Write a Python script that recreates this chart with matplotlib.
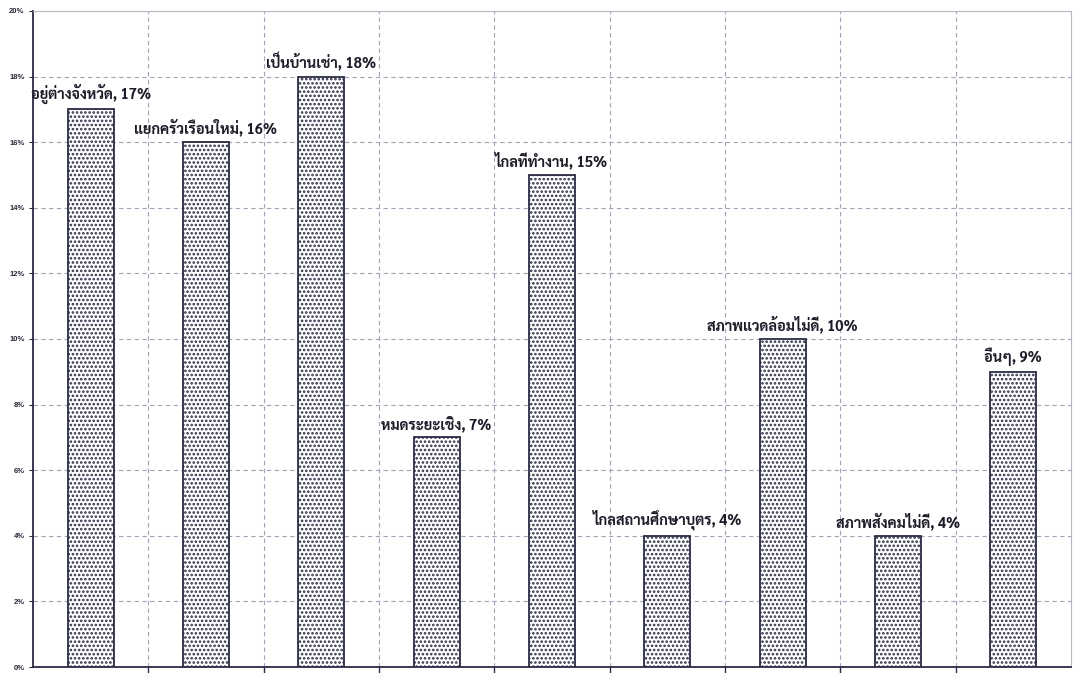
import matplotlib
matplotlib.use("Agg")
import matplotlib.pyplot as plt
import numpy as np

# reasons for moving, share of respondents (%)
categories = [
    "อยู่ต่างจังหวัด",
    "แยกครัวเรือนใหม่",
    "เป็นบ้านเช่า",
    "หมดระยะเชิง",
    "ไกลที่ทำงาน",
    "ไกลสถานศึกษาบุตร",
    "สภาพแวดล้อมไม่ดี",
    "สภาพสังคมไม่ดี",
    "อื่นๆ",
]
values = [17, 16, 18, 7, 15, 4, 10, 4, 9]
ytick_values = [0, 2, 4, 6, 8, 10, 12, 14, 16, 18, 20]
ytick_labels = [f"{v}%" for v in ytick_values]

plt.rcParams["font.family"] = ["Sarabun", "DejaVu Sans"]
plt.rcParams["hatch.linewidth"] = 1.25

ink = "#2a2c44"
grid_col = "#a3a2b8"

fig = plt.figure(figsize=(10.74, 6.73), dpi=100)
ax = fig.add_axes([0.0307, 0.0089, 0.9665, 0.9748])

x = np.arange(len(categories))
bars = ax.bar(x, values, width=0.40, color="white", edgecolor=ink,
              linewidth=1.3, hatch="....", zorder=3)

for xi, v, name in zip(x, values, categories):
    ax.annotate(f"{name}, {v}%", (xi, v), xytext=(0, 4),
                textcoords="offset points", ha="center", va="bottom",
                fontsize=10.5, fontweight="bold", color="#1c1c28", zorder=4)

ax.set_xlim(-0.5, len(categories) - 0.5)
ax.set_ylim(0, 20)

# category boundaries carry the vertical grid and the small x ticks
bounds = np.arange(0.5, len(categories) - 0.5, 1.0)
ax.set_xticks(bounds)
ax.set_xticklabels([])
ax.tick_params(axis="x", length=4, width=1.0, color=ink, direction="out")

ax.set_yticks(ytick_values)
ax.set_yticklabels(ytick_labels, fontsize=5.5, fontweight="bold",
                   color="#2a2a3a", family=["Liberation Sans", "DejaVu Sans"])
ax.tick_params(axis="y", length=3, width=0.8, color=ink, pad=3)

ax.grid(True, which="major", axis="both", color=grid_col,
        linestyle=(0, (4, 3)), linewidth=0.8, zorder=0)
ax.set_axisbelow(True)

for side in ("left", "bottom"):
    ax.spines[side].set_color(ink)
    ax.spines[side].set_linewidth(1.3)
for side in ("top", "right"):
    ax.spines[side].set_color("#b8b8c4")
    ax.spines[side].set_linewidth(0.8)

fig.savefig("out.png", dpi=100)
